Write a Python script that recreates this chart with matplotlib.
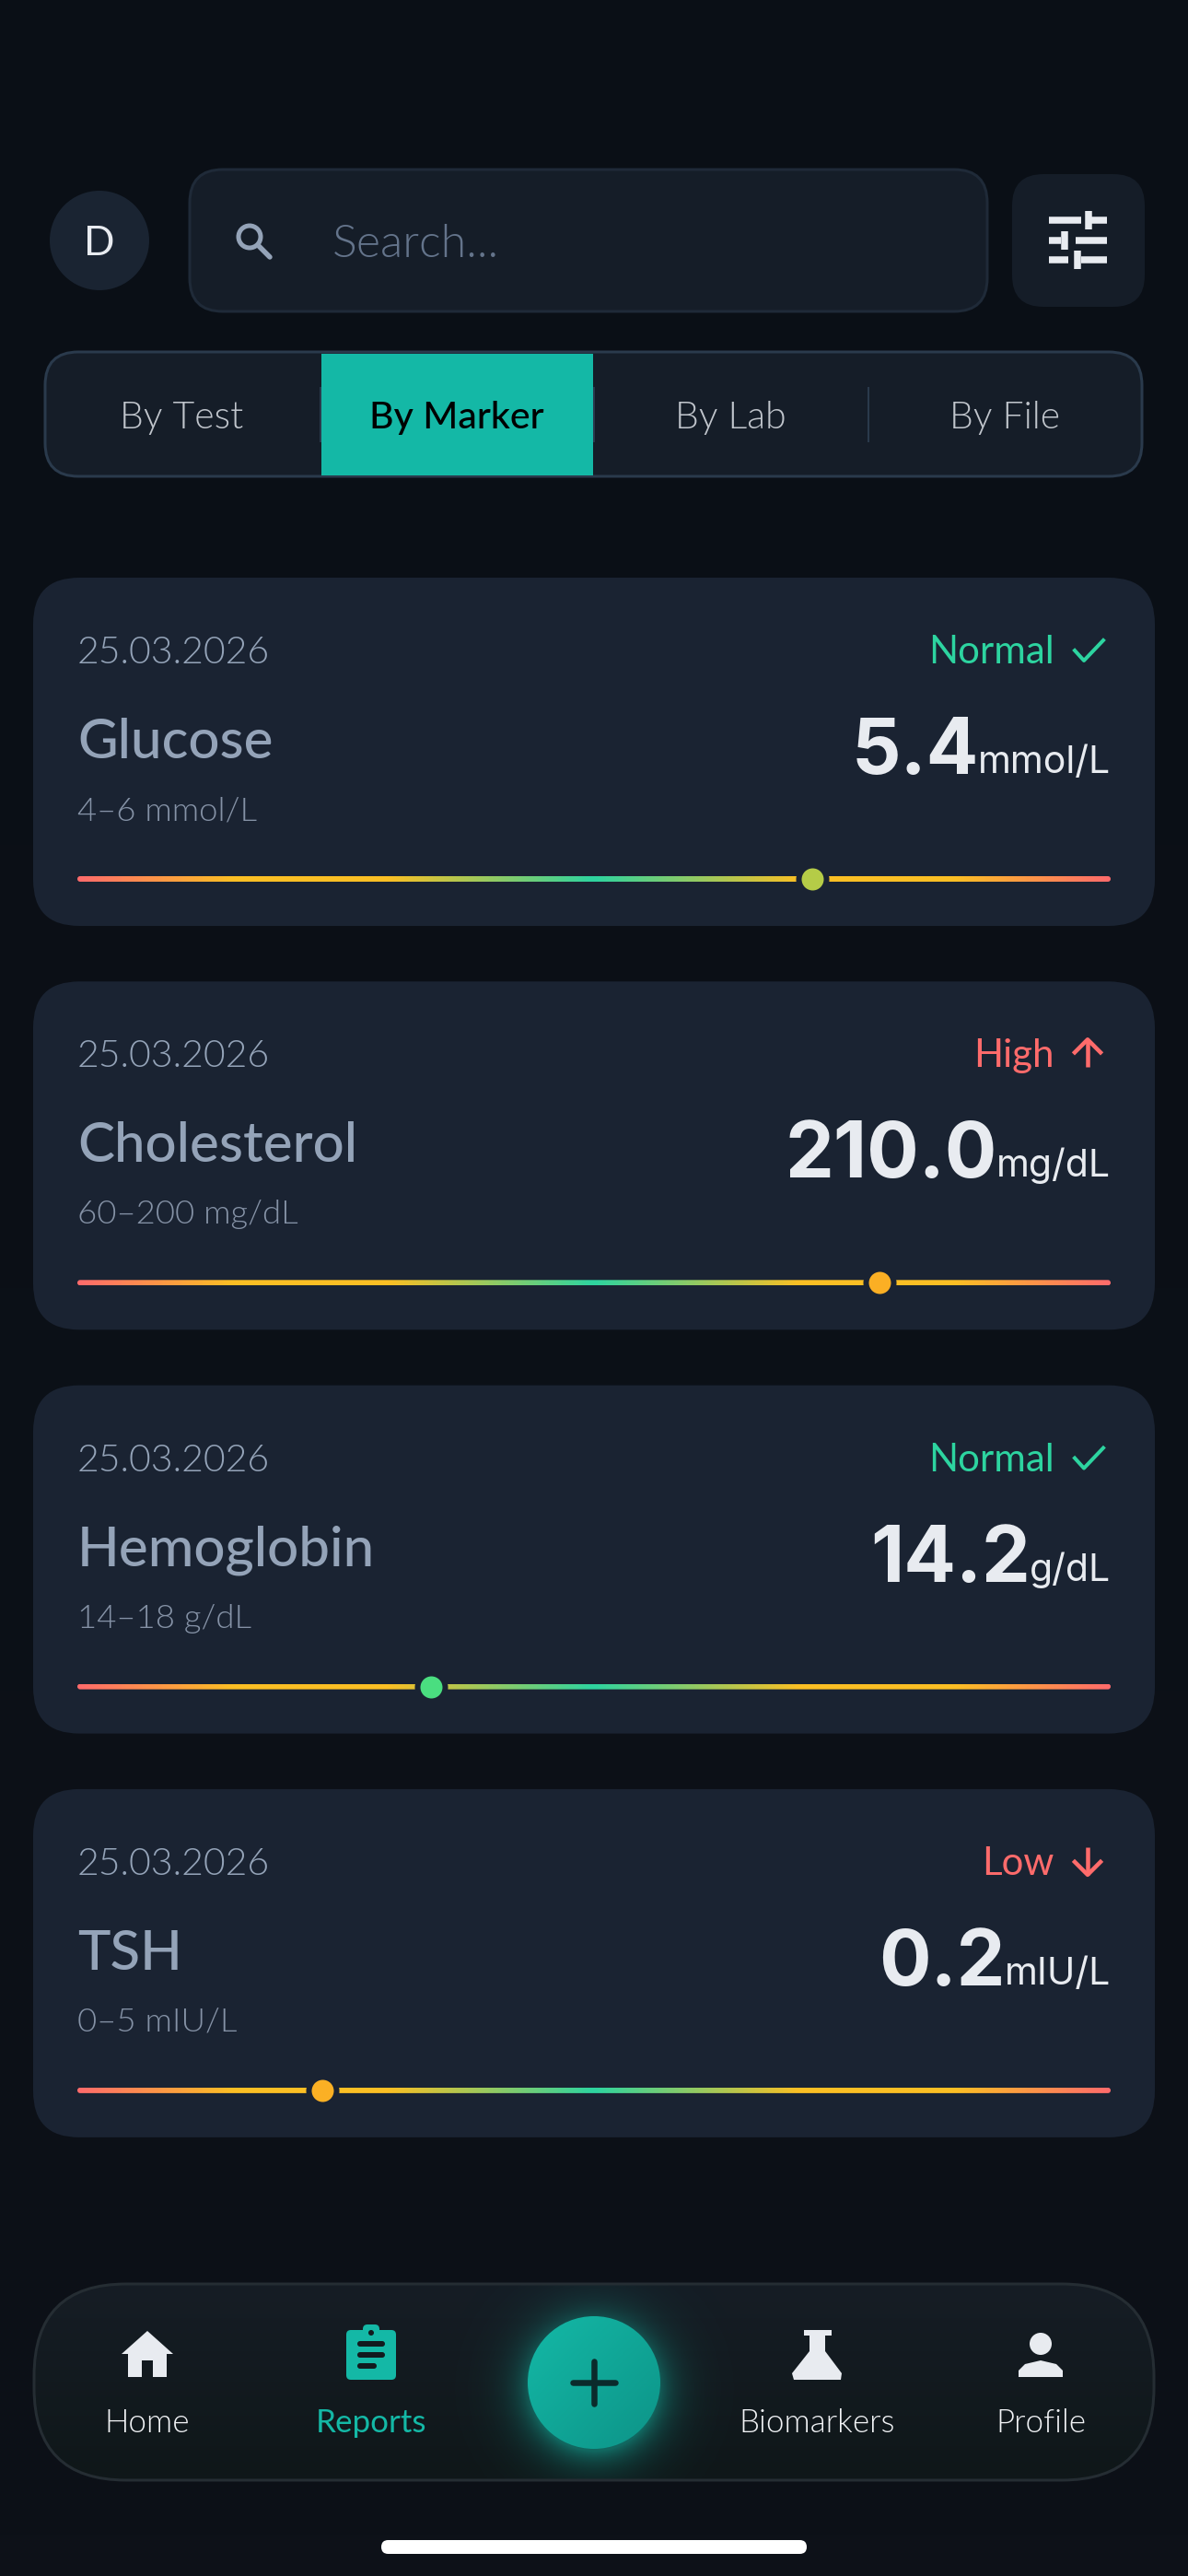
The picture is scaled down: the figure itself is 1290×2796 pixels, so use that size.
import os
import numpy as np
import matplotlib
matplotlib.use('Agg')
import matplotlib.pyplot as plt
from matplotlib import font_manager
from matplotlib.font_manager import FontProperties
from matplotlib.patches import FancyBboxPatch, Circle, Polygon, Rectangle
from matplotlib.colors import LinearSegmentedColormap

W, H = 1290, 2796
DPI = 100
PX = 72.0 / DPI  # font size in pt for a size given in pixels

# chart data, top to bottom
markers = ["Glucose", "Cholesterol", "Hemoglobin", "TSH"]
dates = ["25.03.2026", "25.03.2026", "25.03.2026", "25.03.2026"]
statuses = ["Normal", "High", "Normal", "Low"]
values = ["5.4", "210.0", "14.2", "0.2"]
units = ["mmol/L", "mg/dL", "g/dL", "mIU/L"]
ranges = ["4\u20136 mmol/L", "60\u2013200 mg/dL", "14\u201318 g/dL", "0\u20135 mIU/L"]
positions = [0.711, 0.776, 0.342, 0.237]
marker_colors = ["#B5CC47", "#FBAF24", "#4ADE80", "#FBB024"]

tab_labels = ["By Test", "By Marker", "By Lab", "By File"]
tab_centers = [197, 496, 793, 1091]
nav_labels = ["Home", "Reports", "Biomarkers", "Profile"]
nav_centers = [160, 403, 887, 1130]

BG = "#0B1017"
CARD = "#1A2332"
PANEL = "#151D28"
TEAL = "#14B8A6"
GREEN = "#2DD4A0"
RED = "#FF6B6B"
LIGHT = "#E8EBF0"
UI_FONT = ["Lato", "DejaVu Sans"]
NUM_FONT = ["Inter", "Liberation Sans"]

# weight 'light' resolves to the hairline cut of Lato, so look up the Light file itself
light_path = None
for f in font_manager.fontManager.ttflist:
    base = os.path.basename(f.fname)
    if f.name == "Lato" and base.startswith("Lato-Light") and "Italic" not in base:
        light_path = f.fname

fig = plt.figure(figsize=(W / DPI, H / DPI), dpi=DPI, facecolor=BG)
ax = fig.add_axes([0, 0, 1, 1])
ax.set_xlim(0, W)
ax.set_ylim(H, 0)
ax.axis('off')


def rbox(x0, y0, x1, y1, r, fc, ec='none', lw=0, z=2, target=ax):
    p = FancyBboxPatch((x0, y0), x1 - x0, y1 - y0, boxstyle="round,pad=0,rounding_size=%g" % r,
                       fc=fc, ec=ec, lw=lw * PX, zorder=z, transform=ax.transData)
    if target is not None:
        target.add_patch(p)
    return p


def label(x, y, s, px, color, ha='left', weight='light', family=UI_FONT, z=5):
    if weight == 'light' and light_path:
        fp = FontProperties(fname=light_path, size=px * PX)
    else:
        fp = FontProperties(family=family, weight='normal' if weight == 'light' else weight, size=px * PX)
    return ax.text(x, y, s, fontproperties=fp, color=color, ha=ha, va='baseline', zorder=z)


def stroke(xs, ys, color, lw, z=5, cap='round'):
    ax.plot(xs, ys, color=color, lw=lw * PX, solid_capstyle=cap, solid_joinstyle='miter', zorder=z)


# page background
bg = np.linspace(0, 1, 64)[:, None]
ax.imshow(bg, extent=(0, W, H, 0), aspect='auto', zorder=0,
          cmap=LinearSegmentedColormap.from_list("bg", ["#0A0F16", "#0D1118"]))

# header row
ax.add_patch(Circle((108, 261), 54, fc="#1A2432", zorder=2))
label(108, 277, "D", 44, LIGHT, ha='center', weight='normal')
rbox(206, 184, 1072, 338, 36, PANEL, "#1F2A38", 3)
ax.add_patch(Circle((271, 257), 12, fc='none', ec="#94A3B8", lw=5 * PX, zorder=5))
stroke([280, 293], [266, 279], "#94A3B8", 5.5)
label(361, 279, "Search...", 50, "#64748B")
rbox(1099, 189, 1243, 333, 34, PANEL)

# filter icon: three slider rows
for yy, left_end, knob, right_start in [(239, 1174, 1182, 1182), (261, 1152, 1156, 1168), (282, 1160, 1170, 1174)]:
    stroke([1139, left_end], [yy, yy], LIGHT, 7.5, cap='butt')
    stroke([right_start, 1202], [yy, yy], LIGHT, 7.5, cap='butt')
    stroke([knob, knob], [yy - 10, yy + 10], LIGHT, 7.5, cap='butt')

# tabs
tabs = rbox(49, 382, 1240, 517, 36, PANEL, "#2A3A4C", 3)
ax.add_patch(Rectangle((349, 384), 295, 132, fc=TEAL, zorder=3))
for xx in [348, 645, 943]:
    stroke([xx, xx], [420, 480], "#2A3A4C", 2, z=2.5, cap='butt')
for i, (name, cx) in enumerate(zip(tab_labels, tab_centers)):
    selected = i == 1
    label(cx, 465, name, 41, "#000000" if selected else "#C0C5CC", ha='center',
          weight='medium' if selected else 'light')

# cards
track_cmap = LinearSegmentedColormap.from_list(
    "track", [(0, RED), (0.15, "#FBBF24"), (0.3, "#FBBF24"), (0.5, GREEN), (0.7, "#FBBF24"), (0.85, "#FBBF24"), (1, RED)])
grad = np.linspace(0, 1, 512)[None, :]
renderer = fig.canvas.get_renderer()

for i in range(len(markers)):
    top = 627 + i * 438.3
    rbox(36, top, 1254, top + 378, 50, CARD)
    label(84, top + 93, dates[i], 41, "#94A3B8")
    label(84, top + 196, markers[i], 60, "#94A3B8", weight='medium')
    label(84, top + 263, ranges[i], 36.5, "#8592A6")

    # status text and icon
    st = statuses[i]
    col = GREEN if st == "Normal" else RED
    label(1145, top + 93, st, 42, col, ha='right', weight='normal')
    yc = top + 78
    if st == "Normal":
        ax.plot([1167, 1177, 1198], [yc + 1, yc + 12, yc - 10], color=col, lw=4 * PX, zorder=5)
    else:
        sgn = -1 if st == "High" else 1
        stroke([1181, 1181], [yc - sgn * 15, yc + sgn * 15], col, 4.5, cap='butt')
        ax.plot([1167, 1181, 1195], [yc + sgn * 1, yc + sgn * 15, yc + sgn * 1], color=col, lw=4.5 * PX, zorder=5)

    # value and unit, right aligned on the end of the track
    unit_t = label(1206, top + 212, units[i], 41, LIGHT, ha='right', weight='normal', family=NUM_FONT)
    ext = unit_t.get_window_extent(renderer)
    label(ext.x0 + 1, top + 213, values[i], 84, LIGHT, ha='right', weight='bold', family=NUM_FONT)

    # range track in its own axes, 0-1 along x
    tx = fig.add_axes([84 / W, 1 - (top + 327 + 30) / H, 1122 / W, 60 / H])
    tx.set_xlim(0, 1)
    tx.set_ylim(-30, 30)
    tx.axis('off')
    tx.patch.set_alpha(0)
    im = tx.imshow(grad, extent=(0, 1, -3, 3), aspect='auto', cmap=track_cmap, vmin=0, vmax=1, zorder=1)
    im.set_clip_path(rbox(84, top + 324, 1206, top + 330, 3, 'none', target=None))
    tx.set_xlim(0, 1)
    tx.set_ylim(-30, 30)
    tx.scatter([positions[i]], [0], s=(36 * PX) ** 2, color=CARD, zorder=2, linewidths=0)
    tx.scatter([positions[i]], [0], s=(24 * PX) ** 2, color=marker_colors[i], zorder=3, linewidths=0)

# bottom nav
nav = rbox(37, 2479, 1253, 2692, 100, "none", "#252D33", 3, z=3)
nav_fill = rbox(37, 2479, 1253, 2692, 100, "none", target=ax, z=1)
nav_grad = ax.imshow(np.linspace(0, 1, 64)[:, None], extent=(37, 1253, 2692, 2479), aspect='auto', zorder=1.5,
                     cmap=LinearSegmentedColormap.from_list("nav", ["#161D25", "#0F1719"]))
nav_grad.set_clip_path(nav_fill)

# glow of the add button
yy, xx = np.mgrid[2440:2720, 480:810]
dist = np.hypot(xx - 645, yy - 2592)
glow = np.zeros(dist.shape + (4,))
glow[..., :3] = matplotlib.colors.to_rgb(TEAL)
glow[..., 3] = 0.5 * np.exp(-np.clip(dist - 68, 0, None) / 20.0)
glow_im = ax.imshow(glow, extent=(480, 810, 2720, 2440), aspect='auto', zorder=2)
glow_im.set_clip_path(nav_fill)

fab = Circle((645, 2586), 72, fc='none', zorder=4)
ax.add_patch(fab)
fy, fx = np.mgrid[0:1:64j, 0:1:64j]
fab_im = ax.imshow((fx + fy) / 2, extent=(573, 717, 2658, 2514), aspect='auto', zorder=3.9,
                   cmap=LinearSegmentedColormap.from_list("fab", [TEAL, "#0D9488"]))
fab_im.set_clip_path(fab)
stroke([622, 668], [2586, 2586], "#0B2B2C", 6.5)
stroke([645, 645], [2563, 2609], "#0B2B2C", 6.5)

# nav icons
ax.add_patch(Polygon([(160, 2530), (188, 2555), (181, 2555), (181, 2580), (166, 2580), (166, 2562), (154, 2562),
                      (154, 2580), (139, 2580), (139, 2555), (132, 2555)], closed=True, fc=LIGHT, zorder=5))
rbox(376, 2529, 430, 2583, 5, TEAL, z=5)
rbox(394, 2523, 412, 2536, 5, TEAL, z=5)
ax.add_patch(Circle((403, 2532), 3, fc="#121A1E", zorder=6))
for yb, xb in [(2544, 418), (2556, 418), (2568, 409)]:
    rbox(388, yb - 3, xb, yb + 3, 3, "#121A1E", z=6)
ax.add_patch(Polygon([(873, 2529), (903, 2529), (903, 2535), (896, 2535), (896, 2552), (914, 2576), (913, 2583),
                      (862, 2583), (860, 2576), (879, 2552), (879, 2535), (873, 2535)], closed=True, fc=LIGHT, zorder=5))
ax.add_patch(Circle((1130, 2544), 12, fc=LIGHT, zorder=5))
ax.add_patch(Polygon([(1106, 2580), (1106, 2573), (1113, 2566), (1130, 2562), (1147, 2566), (1154, 2573), (1154, 2580)],
                     closed=True, fc=LIGHT, zorder=5))
for i, (name, cx) in enumerate(zip(nav_labels, nav_centers)):
    active = i == 1
    label(cx, 2640, name, 35, TEAL if active else "#F1F3F6", ha='center', weight='normal' if active else 'light')

# home bar
rbox(414, 2757, 876, 2772, 7.5, "#FFFFFF")

ax.set_xlim(0, W)
ax.set_ylim(H, 0)
fig.savefig("out.png", dpi=DPI, facecolor=BG)
